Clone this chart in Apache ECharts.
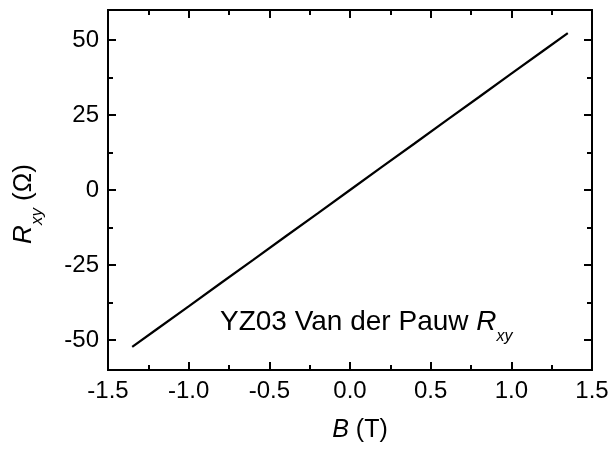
<!DOCTYPE html>
<html><head><meta charset="utf-8">
<script src="https://cdn.jsdelivr.net/npm/echarts@6/dist/echarts.min.js"></script>
<style>html,body{margin:0;padding:0;background:#fff}#c{width:613px;height:449px}</style>
</head><body><div id="c"></div>
<script>
var fieldB = [-1.35, -1.2, -1.0, -0.8, -0.6, -0.4, -0.2, 0.0, 0.2, 0.4, 0.6, 0.8, 1.0, 1.2, 1.35];
var rxy = [-52.3, -46.5, -38.8, -31.0, -23.3, -15.5, -7.8, 0.0, 7.8, 15.5, 23.3, 31.0, 38.8, 46.5, 52.3];
var yMajorTicks = [-50, -25, 0, 25, 50];
var yMinorTicks = [-37.5, -12.5, 12.5, 37.5];
var xTitle = ['B', ' (T)'];
var yTitle = ['R', 'xy', ' (Ω)'];
var note = ['YZ03 Van der Pauw ', 'R', 'xy'];

var F = 'Liberation Sans, Arial, sans-serif';
var data = fieldB.map(function (b, i) { return [b, rxy[i]]; });
var axLine = { show: true, onZero: false, lineStyle: { color: '#000', width: 2 } };
var TICK = 24;

function yAx(pos, labels, ticks, len) {
  return {
    type: 'value', position: pos, min: -60, max: 60,
    axisLine: axLine,
    axisTick: { show: true, inside: true, length: len, customValues: ticks, lineStyle: { color: '#000', width: 2 } },
    axisLabel: labels ? { show: true, customValues: ticks, color: '#000', fontSize: TICK, fontFamily: F, margin: 9 } : { show: false },
    splitLine: { show: false }
  };
}

function richSub(main, sub, pad) {
  return {
    m: { fontSize: main, fontFamily: F, fill: '#000', lineHeight: 56 },
    i: { fontSize: main, fontFamily: F, fontStyle: 'italic', fill: '#000', lineHeight: 56 },
    s: { fontSize: sub, fontFamily: F, fontStyle: 'italic', fill: '#000', lineHeight: sub, padding: [pad, 0, 0, 0] }
  };
}

var option = {
  animation: false,
  backgroundColor: '#fff',
  grid: { left: 108, right: 21, top: 10, bottom: 79, containLabel: false },
  xAxis: [{
    type: 'value', position: 'bottom', min: -1.5, max: 1.5, interval: 0.5,
    axisLine: axLine,
    axisTick: { show: true, inside: true, length: 8, lineStyle: { color: '#000', width: 2 } },
    minorTick: { show: true, splitNumber: 2, length: 5, lineStyle: { color: '#000', width: 2 } },
    axisLabel: { color: '#000', fontSize: TICK, fontFamily: F, margin: 9, formatter: function (v) { return v.toFixed(1); } },
    splitLine: { show: false }
  }, {
    type: 'value', position: 'top', min: -1.5, max: 1.5, interval: 0.5,
    axisLine: axLine,
    axisTick: { show: true, inside: true, length: 8, lineStyle: { color: '#000', width: 2 } },
    minorTick: { show: true, splitNumber: 2, length: 5, lineStyle: { color: '#000', width: 2 } },
    axisLabel: { show: false }, splitLine: { show: false }
  }],
  yAxis: [
    yAx('left', true, yMajorTicks, 8),
    yAx('right', false, yMajorTicks, 8),
    yAx('left', false, yMinorTicks, 5),
    yAx('right', false, yMinorTicks, 5)
  ],
  graphic: [{
    type: 'text', x: 220, y: 322,
    style: {
      text: '{m|' + note[0] + '}{i|' + note[1] + '}{s|' + note[2] + '}',
      verticalAlign: 'middle', align: 'left',
      rich: richSub(28, 16, 30)
    }
  }, {
    type: 'text', x: 360, y: 430,
    style: {
      text: '{i|' + xTitle[0] + '}{m|' + xTitle[1] + '}',
      verticalAlign: 'middle', align: 'center',
      rich: richSub(25, 16, 26)
    }
  }, {
    type: 'text', x: 24, y: 204, rotation: Math.PI / 2,
    style: {
      text: '{i|' + yTitle[0] + '}{s|' + yTitle[1] + '}{m|' + yTitle[2] + '}',
      verticalAlign: 'middle', align: 'center',
      rich: richSub(26, 17, 26)
    }
  }],
  series: [{
    type: 'line', xAxisIndex: 0, yAxisIndex: 0, data: data,
    showSymbol: false, symbol: 'none',
    lineStyle: { color: '#000', width: 2.2 }
  }]
};
echarts.init(document.getElementById('c')).setOption(option);
</script></body></html>
